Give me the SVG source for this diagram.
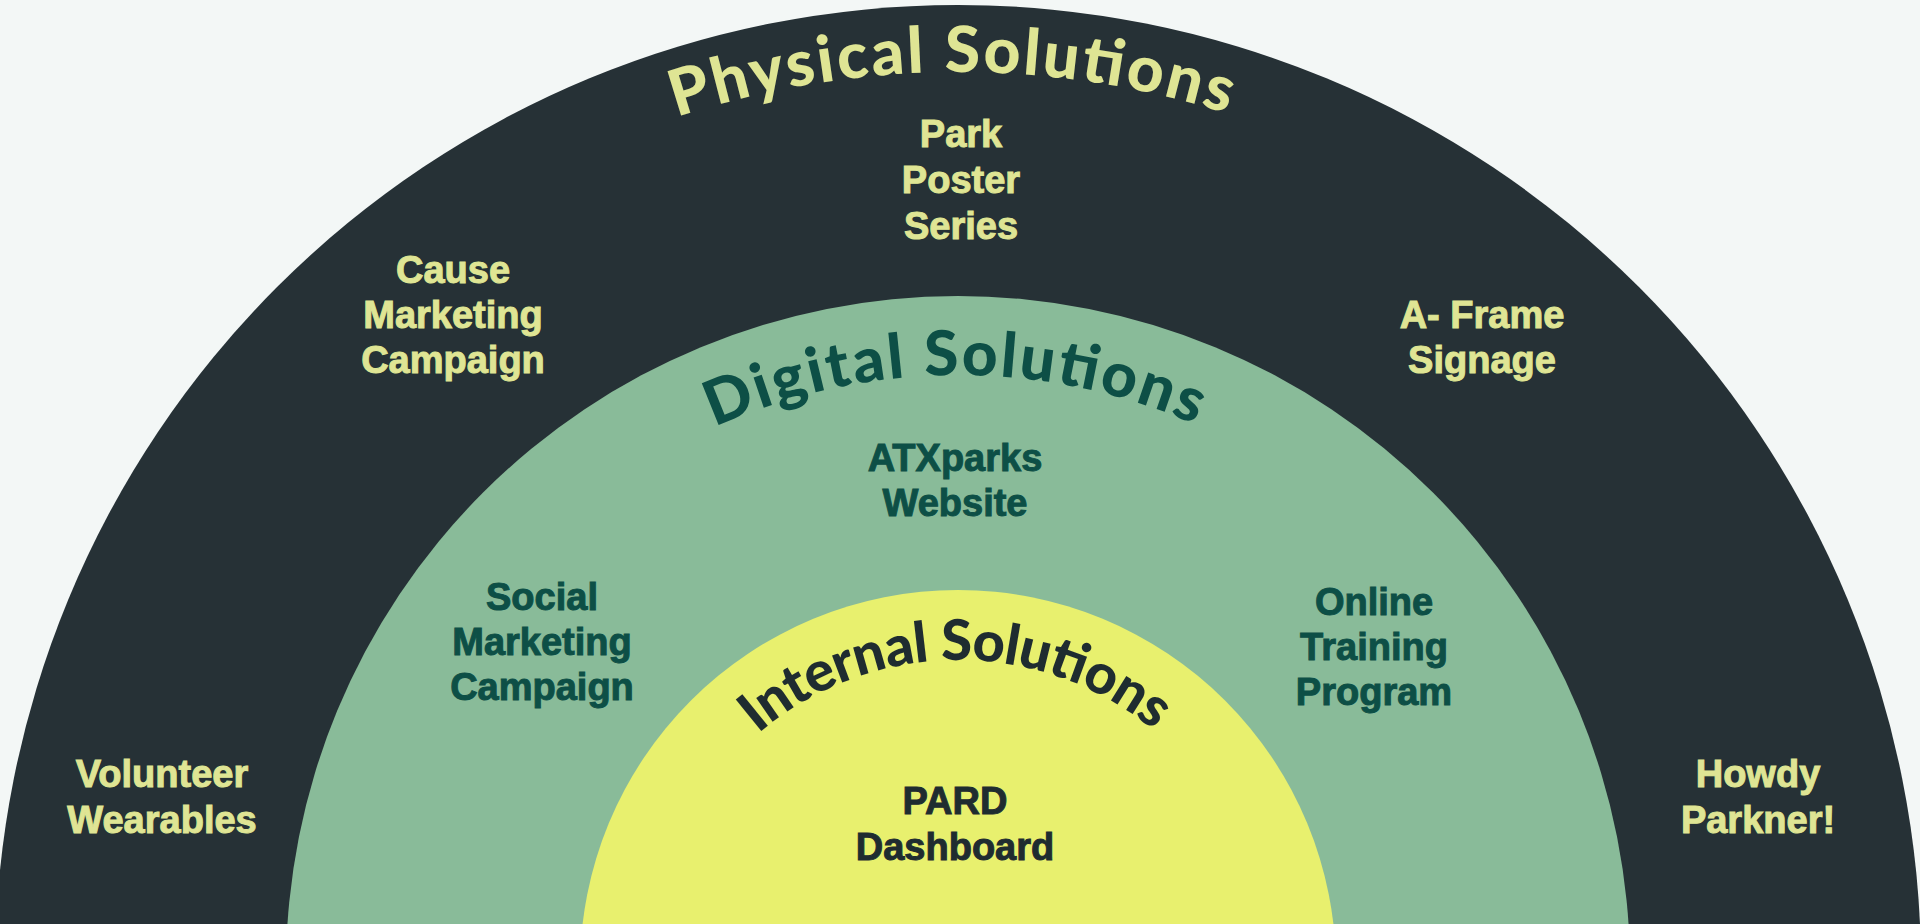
<svg xmlns="http://www.w3.org/2000/svg" width="1920" height="924" viewBox="0 0 1920 924">
  <style>
    .lbl { font-family: "Liberation Sans", Arial, sans-serif; font-weight: bold; font-size: 38px; text-anchor: middle; stroke-width: 1; }
    .light { fill: #dfe594; stroke: #dfe594; }
    .teal { fill: #0d4f46; stroke: #0d4f46; }
    .dark { fill: #1f2c30; stroke: #1f2c30; }
    .title { font-family: Lato, "Open Sans", sans-serif; font-weight: 900; stroke: none; }
  </style>
  <defs>
    <path id="arcPhysical" d="M 62 968 A 896 896 0 0 1 1854 968"/>
    <path id="arcDigital" d="M 365 968 A 593 593 0 0 1 1551 968"/>
    <path id="arcInternal" d="M 650 968 A 308 308 0 0 1 1266 968"/>
  </defs>
  <rect x="0" y="0" width="1920" height="924" fill="#f3f7f6"/>
  <g id="ring-physical">
    <circle cx="958" cy="968" r="963" fill="#263136"/>
    <text class="title light" font-size="64"><textPath href="#arcPhysical" startOffset="1401" text-anchor="middle" textLength="560" lengthAdjust="spacing">Physical Solutions</textPath></text>
  </g>
  <g id="ring-digital">
    <circle cx="958" cy="968" r="672" fill="#89bb99"/>
    <text class="title teal" font-size="62"><textPath href="#arcDigital" startOffset="928" text-anchor="middle" textLength="495" lengthAdjust="spacing">Digital Solutions</textPath></text>
  </g>
  <g id="ring-internal">
    <circle cx="958" cy="968" r="378" fill="#e8f06e"/>
    <text class="title dark" font-size="56"><textPath href="#arcInternal" startOffset="481" text-anchor="middle" textLength="430" lengthAdjust="spacing">Internal Solutions</textPath></text>
  </g>
  <g id="node-park-poster" class="lbl light">
    <text x="961" y="147">Park</text>
    <text x="961" y="193">Poster</text>
    <text x="961" y="239">Series</text>
  </g>
  <g id="node-cause-marketing" class="lbl light">
    <text x="453" y="283">Cause</text>
    <text x="453" y="328">Marketing</text>
    <text x="453" y="373">Campaign</text>
  </g>
  <g id="node-a-frame" class="lbl light">
    <text x="1482" y="328">A- Frame</text>
    <text x="1482" y="373">Signage</text>
  </g>
  <g id="node-volunteer" class="lbl light">
    <text x="162" y="787">Volunteer</text>
    <text x="162" y="833">Wearables</text>
  </g>
  <g id="node-howdy" class="lbl light">
    <text x="1758" y="787">Howdy</text>
    <text x="1758" y="833">Parkner!</text>
  </g>
  <g id="node-atxparks" class="lbl teal">
    <text x="955" y="471">ATXparks</text>
    <text x="955" y="516">Website</text>
  </g>
  <g id="node-social" class="lbl teal">
    <text x="542" y="610">Social</text>
    <text x="542" y="655">Marketing</text>
    <text x="542" y="700">Campaign</text>
  </g>
  <g id="node-online" class="lbl teal">
    <text x="1374" y="615">Online</text>
    <text x="1374" y="660">Training</text>
    <text x="1374" y="705">Program</text>
  </g>
  <g id="node-pard" class="lbl dark">
    <text x="955" y="814">PARD</text>
    <text x="955" y="860">Dashboard</text>
  </g>
  <g id="connectors"/>
</svg>
